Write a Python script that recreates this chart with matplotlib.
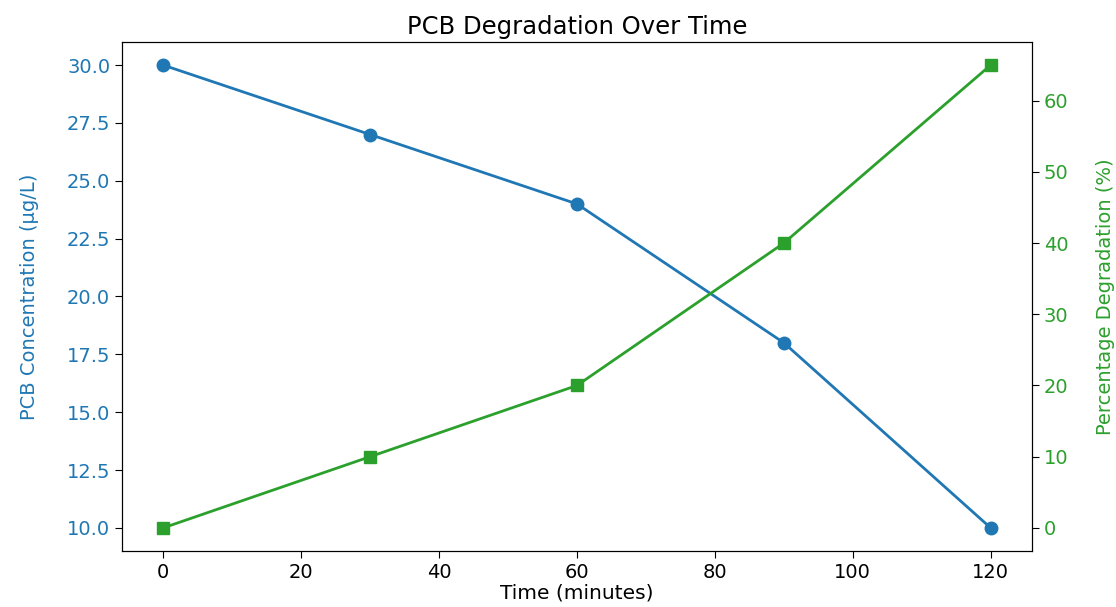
import matplotlib.pyplot as plt

# data
time_min = [0, 30, 60, 90, 120]
pcb_conc = [30, 27, 24, 18, 10]
degradation_pct = [0, 10, 20, 40, 65]

fig = plt.figure(figsize=(11.16, 6.07), dpi=100)
ax1 = fig.add_axes([0.1093, 0.0923, 0.8154, 0.8385])

ax1.plot(time_min, pcb_conc, 'o-', color='tab:blue', linewidth=2, markersize=9)
ax1.set_xlabel('Time (minutes)', fontsize=14.5, labelpad=1)
ax1.set_ylabel('PCB Concentration (µg/L)', color='tab:blue', fontsize=14, labelpad=20)
ax1.tick_params(axis='y', labelcolor='tab:blue', labelsize=14, length=5)
ax1.tick_params(axis='x', labelsize=14, length=5)

ax2 = ax1.twinx()
ax2.plot(time_min, degradation_pct, 's-', color='tab:green', linewidth=2, markersize=9)
ax2.set_ylabel('Percentage Degradation (%)', color='tab:green', fontsize=14, labelpad=20)
ax2.tick_params(axis='y', labelcolor='tab:green', labelsize=14, length=5)

ax1.set_title('PCB Degradation Over Time', fontsize=17.5, pad=6)

fig.savefig('out.png', dpi=100)
plt.close(fig)
